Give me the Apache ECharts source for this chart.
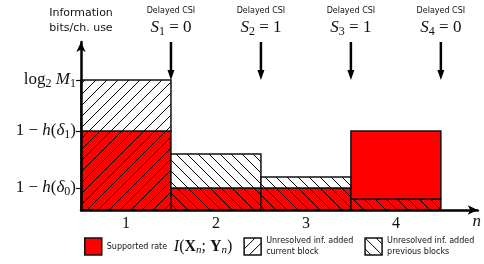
<!DOCTYPE html>
<html>
<head>
<meta charset="utf-8">
<script src="https://cdn.jsdelivr.net/npm/echarts@6/dist/echarts.min.js"></script>
<style>
  html, body { margin: 0; padding: 0; background: #fff; }
  #chart { width: 484px; height: 264px; }
</style>
</head>
<body>
<div id="chart"></div>
<script>
// blocks n = 1..4, each bar spans [n-1, n] on the x axis
var blocks = [1, 2, 3, 4];
// stacked layers, bottom to top
var ratePrevious = [0, 0.22, 0.22, 0.11];   // supported rate, resolves previous blocks
var rateCurrent = [0.79, 0, 0, 0];          // supported rate, current block
var rateFresh = [0, 0, 0, 0.68];            // supported rate, plain
var pendingCurrent = [0.51, 0, 0, 0];       // unresolved, added current block
var pendingPrevious = [0, 0.34, 0.11, 0];   // unresolved, added previous blocks
// y tick levels
var tickValues = [0.22, 0.79, 1.30];
var tickLabels = [
    '{r|1 − }{i|h}{r|(}{i|δ}{s|0}{r|)}',
    '{r|1 − }{i|h}{r|(}{i|δ}{s|1}{r|)}',
    '{r|log}{s|2}{r| }{i|M}{s|1}'
];
// delayed CSI after each block
var csiState = [0, 1, 1, 0];
var arrowFrom = 1.68;
var arrowTo = 1.30;

var RED = '#ff0000';
var INK = '#111';
var SERIF = '"Liberation Serif", "DejaVu Serif", serif';
var SANS = '"DejaVu Sans", sans-serif';

function hatch(bg, dir) {
    var c = document.createElement('canvas');
    var s = 11;
    c.width = s; c.height = s;
    var g = c.getContext('2d');
    g.fillStyle = bg;
    g.fillRect(0, 0, s, s);
    g.strokeStyle = '#000';
    g.lineWidth = 1;
    g.beginPath();
    if (dir === '/') {
        g.moveTo(-1, s + 1); g.lineTo(s + 1, -1);
        g.moveTo(-1, 1); g.lineTo(1, -1);
        g.moveTo(s - 1, s + 1); g.lineTo(s + 1, s - 1);
    } else {
        g.moveTo(-1, -1); g.lineTo(s + 1, s + 1);
        g.moveTo(s - 1, -1); g.lineTo(s + 1, 1);
        g.moveTo(-1, s - 1); g.lineTo(1, s + 1);
    }
    g.stroke();
    return { image: c, repeat: 'repeat' };
}

var fills = {
    redBack: hatch(RED, '\\'),
    redFwd: hatch(RED, '/'),
    red: RED,
    whiteFwd: hatch('#fff', '/'),
    whiteBack: hatch('#fff', '\\')
};

var mathRich = {
    r: { fontFamily: SERIF, fontSize: 17, color: INK, lineHeight: 20 },
    i: { fontFamily: SERIF, fontStyle: 'italic', fontSize: 17, color: INK, lineHeight: 20 },
    s: { fontFamily: SERIF, fontSize: 12, color: INK, lineHeight: 12, verticalAlign: 'bottom' }
};

function stackLayers(layers) {
    var base = blocks.map(function () { return 0; });
    return layers.map(function (vals) {
        var data = [];
        blocks.forEach(function (b, i) {
            if (vals[i] > 0) data.push([b, base[i], base[i] + vals[i]]);
            base[i] += vals[i];
        });
        return data;
    });
}

var stacked = stackLayers([ratePrevious, rateCurrent, rateFresh, pendingCurrent, pendingPrevious]);
var layerNames = ['Rate (previous)', 'Rate (current)', 'Supported rate',
    'Unresolved inf. added current block', 'Unresolved inf. added previous blocks'];
var layerFills = [fills.redBack, fills.redFwd, fills.red, fills.whiteFwd, fills.whiteBack];

function rectItem(fill) {
    return function (params, api) {
        var b = api.value(0);
        var lo = api.coord([b - 1, api.value(1)]);
        var hi = api.coord([b, api.value(2)]);
        return {
            type: 'rect',
            shape: { x: lo[0], y: hi[1], width: hi[0] - lo[0], height: lo[1] - hi[1] },
            style: { fill: fill, stroke: INK, lineWidth: 1.5 }
        };
    };
}

var series = stacked.map(function (data, k) {
    return {
        name: layerNames[k],
        type: 'custom',
        renderItem: rectItem(layerFills[k]),
        data: data,
        encode: { x: 0, y: [1, 2] },
        z: 2
    };
});

series.push({
    name: 'csi',
    type: 'custom',
    clip: false,
    z: 5,
    data: csiState.map(function (s, i) { return [blocks[i], s]; }),
    renderItem: function (params, api) {
        var b = api.value(0);
        var top = api.coord([b, arrowFrom]);
        var tip = api.coord([b, arrowTo]);
        var x = top[0];
        return {
            type: 'group',
            children: [
                { type: 'line', shape: { x1: x, y1: top[1], x2: x, y2: tip[1] - 8 },
                  style: { stroke: '#000', lineWidth: 2.5 } },
                { type: 'polygon', shape: { points: [[x - 3.5, tip[1] - 10], [x + 3.5, tip[1] - 10], [x, tip[1]]] },
                  style: { fill: '#000' } },
                { type: 'text', x: x, y: top[1] - 31,
                  style: { text: 'Delayed CSI', font: '8px ' + SANS, fill: INK, align: 'center', verticalAlign: 'middle' } },
                { type: 'text', x: x, y: top[1] - 14,
                  style: { text: '{i|S}{s|' + b + '}{r| = ' + api.value(1) + '}', align: 'center', verticalAlign: 'middle',
                      rich: {
                          r: { fontFamily: SERIF, fontSize: 17, fill: INK, lineHeight: 20 },
                          i: { fontFamily: SERIF, fontStyle: 'italic', fontSize: 17, fill: INK, lineHeight: 20 },
                          s: { fontFamily: SERIF, fontSize: 12, fill: INK, lineHeight: 13, verticalAlign: 'bottom' }
                      } } }
            ]
        };
    }
});

var legendText = {
    'Supported rate': '{a|Supported rate}  {m|I}{p|(}{b|X}{s|n}{p|; }{b|Y}{s|n}{p|)}',
    'Unresolved inf. added current block': '{a|Unresolved inf. added}\n{a|current block}',
    'Unresolved inf. added previous blocks': '{a|Unresolved inf. added}\n{a|previous blocks}'
};

var myChart = echarts.init(document.getElementById('chart'));
var option = {
    animation: false,
    grid: { left: 81, right: 6, top: 42, bottom: 54 },
    xAxis: {
        type: 'value',
        min: 0,
        max: 4.41,
        interval: 0.5,
        z: 10,
        name: 'n',
        nameLocation: 'end',
        nameGap: -1,
        nameTextStyle: { fontFamily: SERIF, fontStyle: 'italic', fontSize: 17, color: INK,
            align: 'center', verticalAlign: 'top', padding: [3, 0, 0, 0] },
        axisLine: { lineStyle: { color: '#000', width: 2.5 }, symbol: ['none', 'arrow'], symbolSize: [7, 10] },
        axisTick: { show: false },
        splitLine: { show: false },
        axisLabel: {
            showMaxLabel: false,
            margin: 6,
            fontFamily: SERIF, fontSize: 16, color: INK,
            formatter: function (v) {
                var r = Math.round(v * 2) / 2;
                return (r % 1 === 0.5) ? String(r + 0.5) : '';
            }
        }
    },
    yAxis: {
        type: 'value',
        min: 0,
        max: arrowFrom,
        z: 10,
        name: 'Information\nbits/ch. use',
        nameLocation: 'end',
        nameGap: 6,
        nameTextStyle: { fontFamily: SANS, fontSize: 11, color: INK, lineHeight: 15, align: 'center' },
        axisLine: { lineStyle: { color: '#000', width: 2.5 }, symbol: ['none', 'arrow'], symbolSize: [7, 10] },
        axisTick: { show: true, customValues: tickValues, length: 5, lineStyle: { color: INK, width: 1.2 } },
        splitLine: { show: false },
        axisLabel: {
            customValues: tickValues,
            margin: 5,
            rich: mathRich,
            formatter: function (v) {
                for (var i = 0; i < tickValues.length; i++) {
                    if (Math.abs(tickValues[i] - v) < 1e-6) return tickLabels[i];
                }
                return '';
            }
        }
    },
    legend: {
        left: 84,
        top: 237,
        padding: 0,
        itemWidth: 17,
        itemHeight: 17,
        itemGap: 11,
        selectedMode: false,
        icon: 'rect',
        data: [
            { name: 'Supported rate', itemStyle: { color: fills.red, borderColor: INK, borderWidth: 1.5 } },
            { name: 'Unresolved inf. added current block', itemStyle: { color: fills.whiteFwd, borderColor: INK, borderWidth: 1.5 } },
            { name: 'Unresolved inf. added previous blocks', itemStyle: { color: fills.whiteBack, borderColor: INK, borderWidth: 1.5 } }
        ],
        formatter: function (name) { return legendText[name]; },
        textStyle: {
            color: INK,
            rich: {
                a: { fontFamily: SANS, fontSize: 8, color: INK, lineHeight: 11 },
                m: { fontFamily: SERIF, fontStyle: 'italic', fontSize: 16, color: INK, lineHeight: 18 },
                p: { fontFamily: SERIF, fontSize: 16, color: INK, lineHeight: 18 },
                b: { fontFamily: SERIF, fontWeight: 'bold', fontSize: 16, color: INK, lineHeight: 18 },
                s: { fontFamily: SERIF, fontStyle: 'italic', fontSize: 11, color: INK, lineHeight: 11, verticalAlign: 'bottom' }
            }
        }
    },
    series: series
};
option && myChart.setOption(option);
window.onresize = function () {
    myChart.resize();
};
</script>
</body>
</html>
